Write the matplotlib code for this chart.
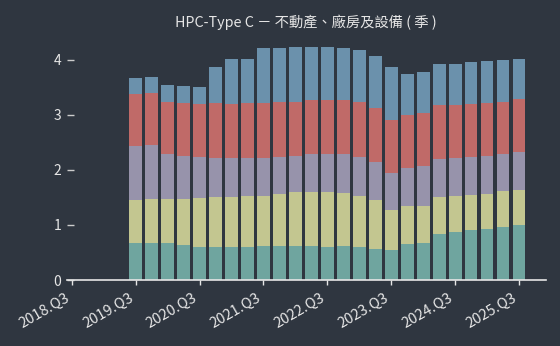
import matplotlib
matplotlib.use("Agg")
import matplotlib.pyplot as plt
import numpy as np

plt.rcParams['font.family'] = ['Noto Sans CJK TC', 'DejaVu Sans']

quarters = ["2019.Q3", "2019.Q4", "2020.Q1", "2020.Q2", "2020.Q3", "2020.Q4",
            "2021.Q1", "2021.Q2", "2021.Q3", "2021.Q4", "2022.Q1", "2022.Q2",
            "2022.Q3", "2022.Q4", "2023.Q1", "2023.Q2", "2023.Q3", "2023.Q4",
            "2024.Q1", "2024.Q2", "2024.Q3", "2024.Q4", "2025.Q1", "2025.Q2",
            "2025.Q3"]

s1 = [0.67, 0.67, 0.68, 0.64, 0.60, 0.60, 0.60, 0.60, 0.62, 0.62, 0.62, 0.62,
      0.60, 0.62, 0.60, 0.56, 0.55, 0.65, 0.67, 0.84, 0.87, 0.91, 0.93, 0.96, 1.00]
s2 = [0.78, 0.80, 0.79, 0.84, 0.89, 0.91, 0.91, 0.93, 0.91, 0.95, 0.98, 0.98,
      1.00, 0.96, 0.93, 0.89, 0.73, 0.69, 0.67, 0.67, 0.65, 0.64, 0.64, 0.65, 0.64]
s3 = [0.99, 0.98, 0.82, 0.78, 0.75, 0.71, 0.71, 0.69, 0.69, 0.67, 0.66, 0.69,
      0.69, 0.71, 0.71, 0.69, 0.67, 0.69, 0.73, 0.69, 0.69, 0.69, 0.69, 0.67, 0.69]
s4 = [0.93, 0.95, 0.95, 0.95, 0.96, 1.00, 0.98, 1.00, 1.00, 1.00, 0.98, 0.98,
      0.98, 0.98, 1.00, 0.98, 0.96, 0.96, 0.96, 0.98, 0.96, 0.96, 0.96, 0.96, 0.96]
s5 = [0.29, 0.29, 0.31, 0.31, 0.31, 0.64, 0.82, 0.80, 1.00, 0.98, 1.00, 0.96,
      0.96, 0.95, 0.94, 0.95, 0.95, 0.76, 0.75, 0.75, 0.76, 0.76, 0.76, 0.75, 0.73]

tick_labels = ["2018.Q3", "2019.Q3", "2020.Q3", "2021.Q3", "2022.Q3",
               "2023.Q3", "2024.Q3", "2025.Q3"]
title = "HPC-Type C － 不動產、廠房及設備 ( 季 )"

series = [s1, s2, s3, s4, s5]
colors = ["#6fa59f", "#c3c690", "#9793ab", "#c06a68", "#6b91ac"]

bg = "#2f3640"
fg = "#e6e6e6"

fig = plt.figure(figsize=(5.6, 3.46), dpi=100, facecolor=bg)
ax = fig.add_axes([66.8 / 560, 1 - 280 / 346, (545.7 - 66.8) / 560, (280 - 35) / 346])
ax.set_facecolor(bg)

x = np.arange(len(quarters))
bottom = np.zeros(len(quarters))
for vals, c in zip(series, colors):
    v = np.array(vals)
    ax.bar(x, v, width=0.8, bottom=bottom, color=c, edgecolor='none')
    bottom += v

ax.set_xlim(-4.31, 25.67)
ax.set_ylim(0, 4.45)

tick_pos = [quarters.index(t) if t in quarters else -4 for t in tick_labels]
ax.set_xticks(tick_pos)
ax.set_xticklabels(tick_labels, rotation=30, ha='right')
ax.set_yticks([0, 1, 2, 3, 4])

for s in ['left', 'right', 'top']:
    ax.spines[s].set_visible(False)
ax.spines['bottom'].set_color(fg)
ax.spines['bottom'].set_linewidth(1.2)

ax.tick_params(axis='x', colors=fg, labelsize=10.5, length=3.3, width=1, pad=4.5)
ax.tick_params(axis='y', colors=fg, labelsize=10, direction='in', length=5, width=1, pad=4)
ax.tick_params(axis='y', color="#cccccc")

ax.set_title(title, color=fg, fontsize=10.3, pad=6)

fig.savefig("out.png", dpi=100, facecolor=bg)
